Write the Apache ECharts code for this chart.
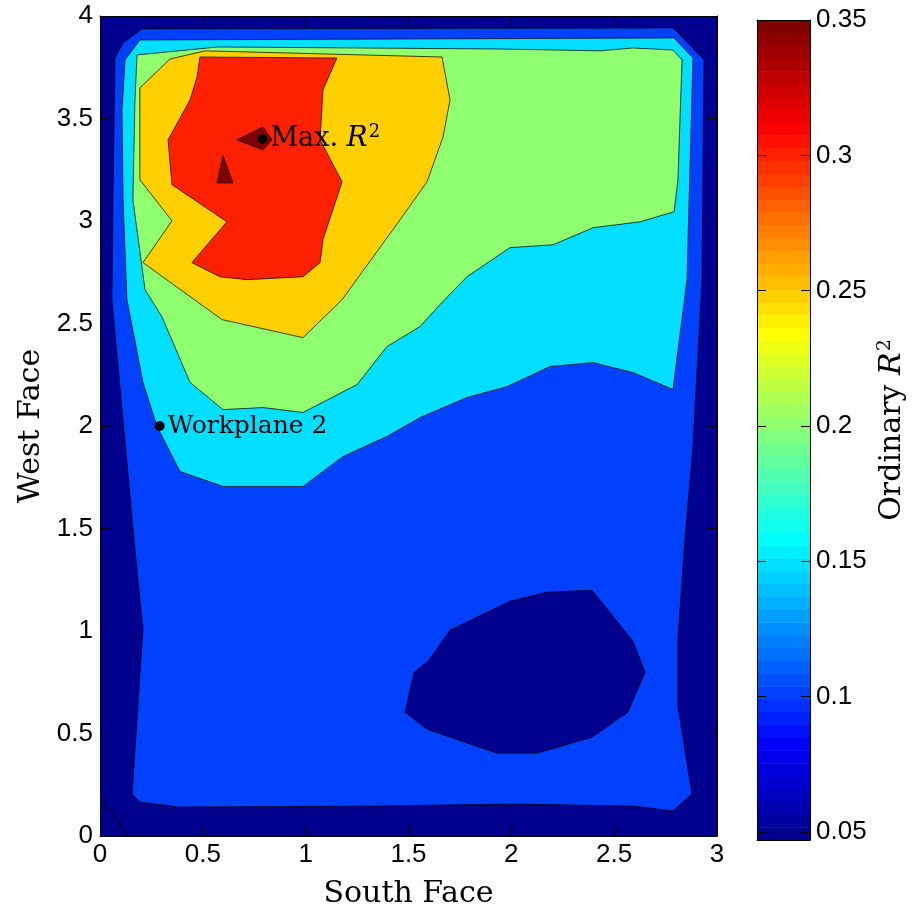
<!DOCTYPE html>
<html>
<head>
<meta charset="utf-8">
<script src="https://cdn.jsdelivr.net/npm/echarts@6/dist/echarts.min.js"></script>
<style>
  html, body { margin: 0; padding: 0; background: #ffffff; }
  #chart { width: 919px; height: 914px; }
</style>
</head>
<body>
<div id="chart"></div>
<script>
// Ordinary R^2 over the South Face / West Face design space (filled contours, jet colormap)

// Axis ranges and ticks
const xRange = [0, 3];
const yRange = [0, 4];
const colorRange = [0.04704, 0.35];
const colorTicks = [0.05, 0.1, 0.15, 0.2, 0.25, 0.3, 0.35];

// Contour band outlines in (South Face, West Face) units; each band is R^2 >= its level
const domain = [[0, 0], [3, 0], [3, 4], [0, 4]];
const band010 = [[0.204, 3.937], [2.786, 3.942], [2.937, 3.786], [2.927, 2.714], [2.883, 1.900], [2.844, 1.447],
  [2.810, 0.960], [2.810, 0.633], [2.878, 0.205], [2.786, 0.122], [2.592, 0.146], [1.993, 0.156], [1.327, 0.146],
  [0.389, 0.141], [0.194, 0.166], [0.156, 0.205], [0.209, 1.009], [0.170, 1.398], [0.058, 2.616], [0.063, 3.104],
  [0.073, 3.795], [0.112, 3.868]];
const band015 = [[0.194, 3.883], [2.791, 3.893], [2.883, 3.795], [2.854, 2.714], [2.786, 2.178], [2.592, 2.261],
  [2.397, 2.309], [2.188, 2.290], [1.979, 2.192], [1.784, 2.139], [1.556, 2.041], [1.395, 1.949], [1.181, 1.851],
  [0.987, 1.705], [0.598, 1.705], [0.389, 1.778], [0.277, 1.998], [0.209, 2.212], [0.131, 2.616], [0.112, 3.104],
  [0.107, 3.542], [0.122, 3.786]];
const band020 = [[0.180, 3.810], [0.574, 3.849], [1.945, 3.839], [2.431, 3.830], [2.592, 3.844], [2.786, 3.834],
  [2.830, 3.786], [2.810, 3.201], [2.791, 3.045], [2.626, 2.996], [2.397, 2.967], [2.203, 2.884], [1.993, 2.870],
  [1.784, 2.728], [1.653, 2.592], [1.556, 2.485], [1.395, 2.387], [1.250, 2.202], [0.987, 2.066], [0.793, 2.090],
  [0.598, 2.080], [0.438, 2.212], [0.301, 2.533], [0.219, 2.665], [0.160, 3.104], [0.170, 3.591]];
const band025 = [[0.340, 3.790], [0.511, 3.830], [1.663, 3.800], [1.702, 3.591], [1.668, 3.410], [1.590, 3.191],
  [1.459, 3.006], [1.177, 2.616], [0.987, 2.431], [0.593, 2.519], [0.209, 2.797], [0.350, 3.001], [0.194, 3.201],
  [0.194, 3.649]];
const band030 = [[0.486, 3.800], [1.152, 3.795], [1.084, 3.640], [1.070, 3.396], [1.177, 3.191], [1.084, 2.909],
  [1.070, 2.797], [0.987, 2.728], [0.715, 2.714], [0.583, 2.728], [0.447, 2.797], [0.617, 2.996], [0.350, 3.177],
  [0.331, 3.396], [0.438, 3.591], [0.472, 3.703]];
const band035a = [[0.666, 3.396], [0.793, 3.459], [0.836, 3.396], [0.793, 3.347]];
const band035b = [[0.598, 3.318], [0.569, 3.186], [0.647, 3.186]];
// Closed low pocket (R^2 < 0.10) in the lower right
const pocket010 = [[1.702, 1.004], [1.993, 1.145], [2.173, 1.189], [2.392, 1.199], [2.592, 0.950], [2.650, 0.799],
  [2.567, 0.604], [2.392, 0.482], [2.125, 0.404], [1.930, 0.404], [1.590, 0.521], [1.483, 0.604], [1.527, 0.799],
  [1.595, 0.853]];
// Lowest contour line crossing the origin corner
const cornerLine = [[0, 0.195], [0.136, 0]];

// Fill order: lower bands first, higher bands drawn over them
const bands = [
  { level: 0.05, outline: domain, stroke: false },
  { level: 0.10, outline: band010, stroke: true },
  { level: 0.15, outline: band015, stroke: true },
  { level: 0.20, outline: band020, stroke: true },
  { level: 0.25, outline: band025, stroke: true },
  { level: 0.30, outline: band030, stroke: true },
  { level: 0.35, outline: band035a, stroke: true },
  { level: 0.35, outline: band035b, stroke: true },
  { level: 0.05, outline: pocket010, stroke: true }
];

// Marked design points
const markNames = ['Max. R2', 'Workplane 2'];
const markSouth = [0.79, 0.29];
const markWest = [3.40, 2.00];

// MATLAB-style 64-entry jet colormap
const JET_N = 64;
function jetRamp(j) {
  if (j >= 1 && j <= 16) return j / 16;
  if (j >= 17 && j <= 31) return 1;
  if (j >= 32 && j <= 47) return (48 - j) / 16;
  return 0;
}
function jetColor(i) {
  const r = Math.round(255 * jetRamp(i - 23));
  const g = Math.round(255 * jetRamp(i - 7));
  const b = Math.round(255 * jetRamp(i + 9));
  return 'rgb(' + r + ',' + g + ',' + b + ')';
}
function colorForValue(v) {
  const t = (v - colorRange[0]) / (colorRange[1] - colorRange[0]);
  const i = Math.max(0, Math.min(JET_N - 1, Math.floor(t * JET_N + 1e-9)));
  return jetColor(i);
}
const colorbarCells = [];
for (let i = 0; i < JET_N; i++) {
  const step = (colorRange[1] - colorRange[0]) / JET_N;
  colorbarCells.push([colorRange[0] + i * step, colorRange[0] + (i + 1) * step, i]);
}

const serif = 'DejaVu Serif';
const sans = 'Liberation Sans';
const frameLine = { show: true, onZero: false, lineStyle: { color: '#000', width: 1 } };
const innerTick = { show: true, inside: true, length: 10, lineStyle: { color: '#000', width: 1 } };
const tickLabel = { fontFamily: sans, fontSize: 26, color: '#000' };
const fmt = v => String(+(+v).toFixed(2));

const chart = echarts.init(document.getElementById('chart'), null, { renderer: 'canvas' });

chart.setOption({
  animation: false,
  backgroundColor: '#ffffff',
  grid: [
    { left: 100, top: 16, width: 617, height: 821, containLabel: false },
    { left: 757, top: 20, width: 53, height: 820, containLabel: false }
  ],
  xAxis: [
    {
      gridIndex: 0, type: 'value', min: xRange[0], max: xRange[1], interval: 0.5, position: 'bottom', z: 10,
      axisLine: frameLine, axisTick: innerTick, splitLine: { show: false },
      axisLabel: Object.assign({ margin: 6, formatter: fmt }, tickLabel),
      name: 'South Face', nameLocation: 'middle', nameGap: 43,
      nameTextStyle: { fontFamily: serif, fontSize: 30, color: '#000' }
    },
    {
      gridIndex: 0, type: 'value', min: xRange[0], max: xRange[1], interval: 0.5, position: 'top', z: 10,
      axisLine: frameLine, axisTick: innerTick, splitLine: { show: false }, axisLabel: { show: false }
    },
    {
      gridIndex: 1, type: 'value', min: 0, max: 1, position: 'bottom', z: 10,
      axisLine: frameLine, axisTick: { show: false }, splitLine: { show: false }, axisLabel: { show: false }
    },
    {
      gridIndex: 1, type: 'value', min: 0, max: 1, position: 'top', z: 10,
      axisLine: frameLine, axisTick: { show: false }, splitLine: { show: false }, axisLabel: { show: false }
    }
  ],
  yAxis: [
    {
      gridIndex: 0, type: 'value', min: yRange[0], max: yRange[1], interval: 0.5, position: 'left', z: 10,
      axisLine: frameLine, axisTick: innerTick, splitLine: { show: false },
      axisLabel: Object.assign({ margin: 7, formatter: fmt }, tickLabel),
      name: 'West Face', nameLocation: 'middle', nameRotate: 90, nameGap: 54,
      nameTextStyle: { fontFamily: serif, fontSize: 30, color: '#000' }
    },
    {
      gridIndex: 0, type: 'value', min: yRange[0], max: yRange[1], interval: 0.5, position: 'right', z: 10,
      axisLine: frameLine, axisTick: innerTick, splitLine: { show: false }, axisLabel: { show: false }
    },
    {
      gridIndex: 1, type: 'value', min: colorRange[0], max: colorRange[1], position: 'right', z: 10,
      axisLine: frameLine, splitLine: { show: false },
      axisTick: { show: true, inside: true, length: 9, customValues: colorTicks, lineStyle: { color: '#000', width: 1 } },
      axisLabel: Object.assign({ margin: 6, customValues: colorTicks, formatter: fmt }, tickLabel),
      name: '{a|Ordinary }{i|R}{s|2}', nameLocation: 'middle', nameRotate: 90, nameGap: 66,
      nameTextStyle: {
        color: '#000',
        rich: {
          a: { fontFamily: serif, fontSize: 30, color: '#000' },
          i: { fontFamily: serif, fontSize: 30, fontStyle: 'italic', color: '#000' },
          s: { fontFamily: serif, fontSize: 19, color: '#000', padding: [0, 0, 14, 1] }
        }
      }
    },
    {
      gridIndex: 1, type: 'value', min: colorRange[0], max: colorRange[1], position: 'left', z: 10,
      axisLine: frameLine, splitLine: { show: false },
      axisTick: { show: true, inside: true, length: 9, customValues: colorTicks, lineStyle: { color: '#000', width: 1 } },
      axisLabel: { show: false }
    }
  ],
  series: [
    {
      type: 'custom',
      name: 'contours',
      xAxisIndex: 0, yAxisIndex: 0,
      clip: true, silent: true, z: 2,
      data: bands.map((b, i) => [i, b.level]),
      renderItem: function (params, api) {
        const band = bands[params.dataIndex];
        const pts = band.outline.map(p => api.coord(p));
        return {
          type: 'polygon',
          shape: { points: pts },
          style: {
            fill: colorForValue(band.level),
            stroke: band.stroke ? 'rgba(0,0,0,0.8)' : null,
            lineWidth: band.stroke ? 0.9 : 0
          }
        };
      }
    },
    {
      type: 'line',
      name: 'corner contour',
      xAxisIndex: 0, yAxisIndex: 0,
      data: cornerLine, showSymbol: false, silent: true, z: 3,
      lineStyle: { color: '#000', width: 1 }
    },
    {
      type: 'scatter',
      name: 'marked points',
      xAxisIndex: 0, yAxisIndex: 0,
      symbol: 'circle', symbolSize: 10, z: 5, silent: true,
      itemStyle: { color: '#000', opacity: 1 },
      data: markNames.map((n, i) => ({ name: n, value: [markSouth[i], markWest[i]] })),
      label: {
        show: true, position: 'right', distance: 3, color: '#000', opacity: 1,
        fontFamily: serif, fontSize: 25,
        formatter: function (p) {
          return p.name === 'Max. R2' ? '{m|Max. }{i|R}{s|2}' : '{t|' + p.name + '}';
        },
        rich: {
          t: { fontFamily: serif, fontSize: 25, color: '#000' },
          m: { fontFamily: serif, fontSize: 27, color: '#000' },
          i: { fontFamily: serif, fontSize: 28, fontStyle: 'italic', color: '#000' },
          s: { fontFamily: serif, fontSize: 18, color: '#000', padding: [0, 0, 13, 1] }
        }
      }
    },
    {
      type: 'custom',
      name: 'colorbar',
      xAxisIndex: 2, yAxisIndex: 2,
      silent: true, z: 2,
      data: colorbarCells,
      renderItem: function (params, api) {
        const lo = api.value(0), hi = api.value(1), idx = api.value(2);
        const a = api.coord([0, hi]);
        const b = api.coord([1, lo]);
        return {
          type: 'rect',
          shape: { x: a[0], y: a[1], width: b[0] - a[0], height: b[1] - a[1] + 0.5 },
          style: { fill: jetColor(idx) }
        };
      }
    }
  ]
});
</script>
</body>
</html>
